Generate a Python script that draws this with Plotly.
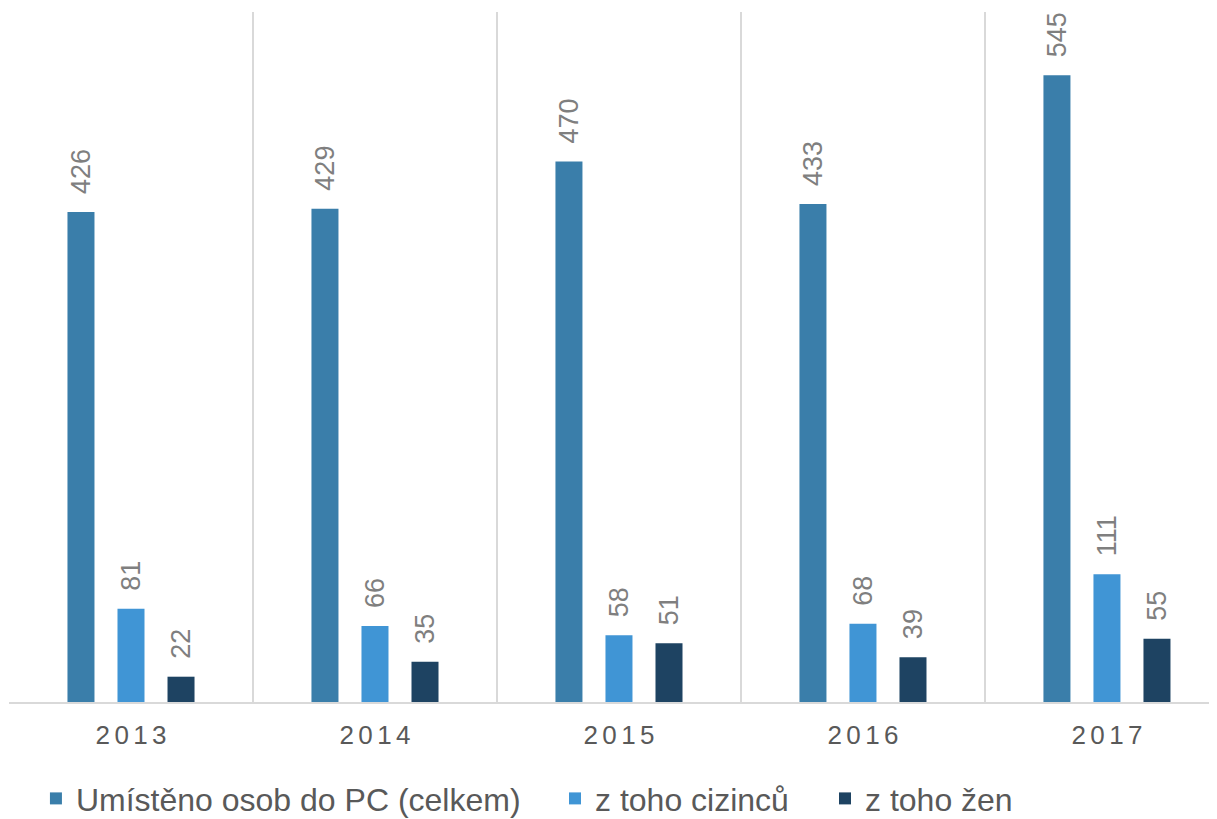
import plotly.graph_objects as go

years = ["2013", "2014", "2015", "2016", "2017"]
year_labels = ["2\u20060\u20061\u20063", "2\u20060\u20061\u20064", "2\u20060\u20061\u20065",
               "2\u20060\u20061\u20066", "2\u20060\u20061\u20067"]
series_names = ["Umístěno osob do PC (celkem)", "z toho cizinců", "z toho žen"]
celkem = [426, 429, 470, 433, 545]
cizincu = [81, 66, 58, 68, 111]
zen = [22, 35, 51, 39, 55]
colors = ["#3A7EAA", "#4095D5", "#1E4362"]
legend_ids = ["legend", "legend2", "legend3"]
legend_x = [0.0223, 0.4520, 0.6755]

FONT = "Liberation Sans, Arial, sans-serif"

fig = go.Figure()
for name, vals, col, lg in zip(series_names, [celkem, cizincu, zen], colors, legend_ids):
    fig.add_trace(go.Bar(
        x=years, y=vals, name=name, legend=lg,
        marker=dict(color=col, line=dict(width=0)),
        texttemplate="\u00a0\u00a0%{y}",
        textposition="outside", textangle=-90,
        constraintext="none",
        textfont=dict(family=FONT, size=27, color="#7F7F7F"),
        cliponaxis=False,
    ))

legend_common = dict(
    orientation="h", xanchor="left", y=-0.140, yanchor="middle",
    font=dict(family=FONT, size=32, color="#595959"),
    bgcolor="rgba(0,0,0,0)",
)

fig.update_layout(
    width=1217, height=819,
    margin=dict(l=1, r=8, t=4, b=125, autoexpand=False),
    paper_bgcolor="white", plot_bgcolor="white",
    barmode="group", bargap=0.385, bargroupgap=0.46,
    font=dict(family=FONT, color="#595959"),
    xaxis=dict(
        type="category", range=[-0.5, 4.451],
        tickmode="array", tickvals=years, ticktext=year_labels,
        tickson="boundaries", ticks="",
        ticklabelstandoff=9,
        showgrid=True, gridcolor="#D9D9D9", gridwidth=1.5,
        showline=True, linecolor="#D9D9D9", linewidth=1.5,
        tickfont=dict(size=26, color="#595959"),
    ),
    yaxis=dict(range=[0, 600], visible=False, showgrid=False, zeroline=False),
    showlegend=True,
    legend=dict(x=legend_x[0], **legend_common),
    legend2=dict(x=legend_x[1], **legend_common),
    legend3=dict(x=legend_x[2], **legend_common),
)

fig.write_html("out.html")
